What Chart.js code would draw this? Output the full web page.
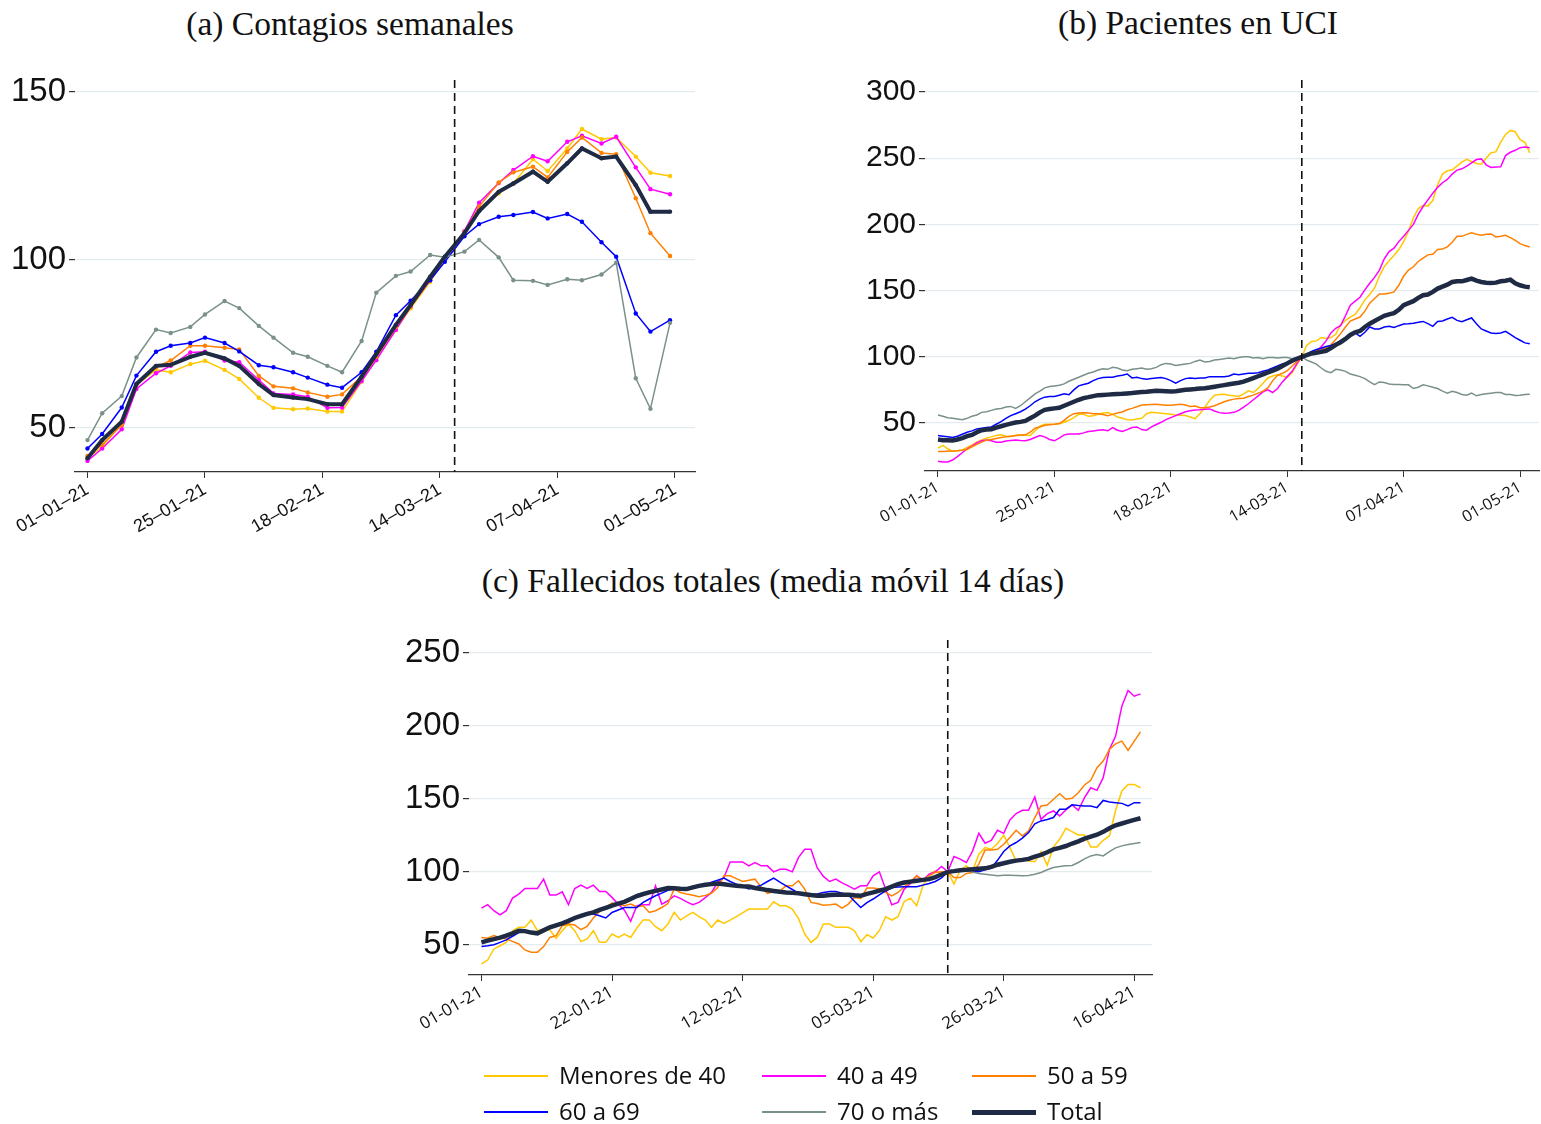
<!DOCTYPE html>
<html>
<head>
<meta charset="utf-8">
<script src="https://cdn.jsdelivr.net/npm/chart.js@4.4.1/dist/chart.umd.min.js"></script>
<style>
  body { margin: 0; background: #fff; width: 1541px; height: 1124px; position: relative; overflow: hidden; }
  .box { position: absolute; }
  .title { position: absolute; text-align: center; font-family: 'Liberation Serif', 'DejaVu Serif', serif; font-size: 33.5px; color: #111; line-height: 36px; white-space: nowrap; }
  .lg-line { position: absolute; width: 64px; }
  .lg-text { position: absolute; font-family: 'Open Sans', sans-serif; font-size: 24px; color: #111; line-height: 34px; white-space: nowrap; }
</style>
</head>
<body>
<div class="title" style="left:0;width:700px;top:6px">(a) Contagios semanales</div>
<div class="title" style="left:848px;width:700px;top:5px">(b) Pacientes en UCI</div>
<div class="title" style="left:423px;width:700px;top:563px">(c) Fallecidos totales (media móvil 14 días)</div>

<div class="box" style="left:0;top:0"><canvas id="chartA" width="700" height="545"></canvas></div>
<div class="box" style="left:845px;top:0"><canvas id="chartB" width="696" height="544"></canvas></div>
<div class="box" style="left:380px;top:560px"><canvas id="chartC" width="780" height="500"></canvas></div>
<div id="legend"></div>

<script>
// series names / colours (legend order)
const SERIES = ['Menores de 40', '40 a 49', '50 a 59', '60 a 69', '70 o más', 'Total'];
const COLORS = ['#FFC800', '#FF00FF', '#FF8000', '#0000FF', '#7A918A', '#1F2A44'];

// day of the "corte" (dashed line), days after 01-01-21
const CUT_DAY = 75;

// ---------- (a) Contagios semanales: two points per week ----------
const daysA = [0, 3, 7, 10, 14, 17, 21, 24, 28, 31, 35, 38, 42, 45, 49, 52, 56, 59, 63, 66, 70, 73,
               77, 80, 84, 87, 91, 94, 98, 101, 105, 108, 112, 115, 119];
const yellowA = [41.0, 44.4, 51.4, 62.8, 67.3, 66.6, 69.0, 70.0, 67.3, 64.6, 59.0, 56.0, 55.6, 55.8, 54.9, 54.9, 63.8, 70.7, 79.2, 85.6, 93.5, 100.5,
                 108.4, 115.4, 119.8, 122.8, 130.0, 126.5, 133.2, 139.0, 136.0, 136.5, 130.8, 126.0, 125.0];
const magentaA = [40.2, 43.9, 49.6, 61.6, 66.3, 68.5, 72.5, 72.7, 70.1, 69.6, 64.3, 60.3, 60.0, 59.3, 56.0, 56.1, 64.0, 70.2, 79.2, 86.1, 94.0, 100.8,
                  108.6, 117.1, 122.9, 126.8, 130.9, 129.4, 135.2, 137.0, 134.7, 136.7, 127.6, 121.1, 119.6];
const orangeA = [41.7, 45.0, 50.9, 63.0, 68.1, 70.1, 74.5, 74.5, 73.9, 73.4, 65.5, 62.4, 61.8, 60.6, 59.3, 60.0, 65.3, 71.2, 80.1, 86.1, 95.0, 100.8,
                 108.4, 115.9, 123.1, 126.1, 127.8, 124.6, 132.2, 136.5, 131.9, 131.5, 118.4, 108.0, 101.2];
const blueA = [43.9, 48.2, 56.1, 65.6, 72.7, 74.5, 75.3, 76.9, 75.3, 72.8, 68.7, 68.1, 66.6, 65.0, 62.9, 62.0, 66.6, 72.7, 83.6, 87.9, 94.0, 99.5,
               107.1, 110.7, 112.9, 113.4, 114.3, 112.4, 113.7, 111.4, 105.3, 101.0, 84.1, 78.7, 82.1];
const grayA = [46.4, 54.4, 59.5, 71.0, 79.3, 78.3, 80.1, 83.8, 87.8, 85.7, 80.4, 76.9, 72.4, 71.2, 68.5, 66.6, 75.9, 90.3, 95.3, 96.6, 101.5, 100.8,
               102.5, 106.0, 100.8, 94.0, 93.8, 92.6, 94.3, 94.0, 95.7, 99.2, 64.8, 55.7, 81.3];
const totalA = [41.0, 46.4, 51.9, 63.1, 68.5, 68.8, 71.2, 72.4, 70.7, 68.5, 63.1, 59.8, 59.1, 58.6, 57.1, 57.1, 65.3, 72.0, 80.7, 86.6, 95.0, 101.0,
                108.0, 114.6, 120.3, 122.8, 126.3, 123.3, 128.8, 133.2, 130.3, 130.8, 122.3, 114.4, 114.4];
const tickDaysA = [0, 24, 48, 72, 96, 120];
const tickLabelsA = ['01–01–21', '25–01–21', '18–02–21', '14–03–21', '07–04–21', '01–05–21'];
const yTicksA = [50, 100, 150];

// ---------- (b) Pacientes en UCI: daily, day 0 .. 122 ----------
const yellowB = [31, 33, 30.5, 28.5, 29, 29.6, 31.5, 33.4, 35.5, 37.2,
  38.5, 39.5, 40.5, 41, 40, 39.7, 40.5, 41, 40.8, 40.5,
  44, 47.5, 49, 49.1, 49.1, 49.3, 50.5, 52, 54, 56.5,
  56.5, 55, 55.5, 56.5, 57.5, 57.9, 56.5, 54.5, 53.5, 52.5,
  52.3, 53, 53.6, 57, 58, 57.7, 57.4, 57, 56.5, 56,
  55.8, 55.6, 54.5, 53.2, 57, 62, 67, 71, 71.5, 71.7,
  71, 70.5, 70, 72, 74.3, 73, 76, 80, 84, 85.5,
  86.4, 85.5, 84.5, 88, 94, 100, 108.5, 111.6, 112, 114.6,
  113.8, 114.5, 117, 124, 127.5, 130, 132, 137, 143, 147,
  152, 161, 168, 172.5, 176.5, 181, 187, 195, 205, 212,
  214.2, 214, 218, 230, 238, 240.5, 241.3, 244, 247, 249.1,
  247.5, 246, 245.5, 250, 254.1, 254.8, 262, 268, 271, 270,
  264, 262, 254];
const magentaB = [21, 20.5, 20.5, 22, 24.5, 27.5, 30.5, 32.5, 35, 36.5,
  37.2, 36.5, 35.5, 35.5, 36.3, 36.8, 37.2, 36.8, 36.5, 37.5,
  39, 40.5, 39.5, 37.5, 36.5, 38.5, 41, 41.6, 41.6, 41.6,
  42.5, 43.5, 44, 44.5, 44.8, 44.1, 46.5, 44.5, 43.5, 45,
  46.5, 47, 45, 44.5, 47, 48.8, 50.5, 52.5, 54, 55.5,
  57, 58.5, 59.3, 59.8, 60, 60.3, 60.6, 59, 57.8, 57.4,
  57.6, 58, 59.5, 62, 64.5, 67.5, 70.5, 73.5, 75, 73,
  76, 81, 85, 89, 95, 100, 101, 102.3, 104.5, 107.5,
  112, 118, 121.5, 123.5, 131, 139, 142, 145, 150.5, 155.5,
  160, 165.5, 174, 179.5, 182, 187, 191, 195.5, 200, 207.5,
  213.5, 218.5, 223.5, 228, 231.5, 234, 238, 241, 242, 244,
  246.5, 249, 249.5, 245, 243, 243.3, 243.5, 252, 254.5, 256,
  258, 258.5, 258];
const orangeB = [28.5, 28.5, 28.7, 28.9, 29, 29.3, 30, 32, 33.8, 35.5,
  37, 37.5, 38.3, 39, 39.5, 40, 40.5, 40.8, 41, 43,
  46, 47, 48.2, 48.6, 49, 49.5, 52, 55, 57, 57.5,
  57.8, 57.5, 57, 57, 56.4, 55.5, 56.5, 57.5, 58.3, 60,
  61, 62.2, 63.5, 63.8, 64, 64.2, 63.8, 63.3, 63.4, 63.8,
  64.2, 63.5, 62.4, 62.8, 61.5, 61.5, 62, 63, 64.5, 66,
  67.2, 68, 68.5, 68.7, 70, 71, 72.5, 74, 76.5, 82,
  86, 87.5, 89.5, 93, 96.5, 100, 101.5, 103, 104.5, 105.5,
  106.8, 109, 113, 117.5, 122.5, 127, 128.5, 130, 134.5, 140.5,
  144, 147.5, 147.5, 148, 149, 154, 161, 165.5, 168, 172,
  174.5, 177, 177.5, 181, 181.5, 183, 186.5, 191, 191, 192.5,
  193.6, 192.5, 191.8, 192.5, 192.8, 190.5, 191, 191.8, 190, 188,
  185.5, 184, 183];
const blueB = [40.5, 40, 39.5, 39, 40, 41.5, 43, 44, 45.5, 46,
  46.5, 47, 49, 51, 53.5, 55.5, 57, 58.5, 60.5, 63,
  66, 68, 69.5, 70, 70, 71, 72, 71.3, 75, 78,
  79, 80, 82, 83.5, 84.4, 84.5, 84.6, 85.5, 86, 87,
  84, 84.5, 83.5, 83, 83.5, 84, 84.4, 83.5, 82, 80.1,
  82, 83.5, 84, 83.5, 84, 84, 85, 85, 85, 85,
  85.5, 87, 86.5, 87, 87.5, 87.6, 88, 89, 90, 91.5,
  93, 94.5, 95.5, 97, 98.5, 100, 102, 104, 105.5, 106.5,
  107.8, 108.5, 110, 112, 114.5, 117.5, 118, 115.5, 118.5, 122.5,
  121, 121, 122.5, 123, 122.2, 123.5, 124.7, 125, 125.4, 126,
  126.7, 125, 123, 126.7, 127, 128.5, 129.8, 127.5, 126.5, 128,
  129.3, 125, 121, 119.5, 118, 117.5, 118, 119.2, 117, 114.5,
  112.5, 110.5, 109.8];
const grayB = [56, 55, 54, 53.5, 53, 52.5, 53.5, 55, 56, 58,
  58.5, 59.5, 60.5, 61, 62, 62.5, 61, 63, 66, 69,
  72, 74, 76.5, 77.5, 78, 78.5, 79.5, 81.5, 83, 84.5,
  86, 87.5, 88.5, 90, 91, 90.5, 92, 91.5, 90, 89.5,
  90.5, 91, 91.5, 90.5, 91, 92, 94, 95, 94.5, 93.5,
  94, 94.5, 95, 96.5, 97.5, 96, 96.5, 97.5, 98, 98.5,
  99, 98.5, 99.5, 100, 100, 99, 99.5, 98.5, 99.5, 99.5,
  99, 99.5, 99.5, 98.5, 99.5, 100, 97.5, 96, 94.5, 91.5,
  89, 88, 90.5, 90, 89, 87, 86, 85, 83.5, 81,
  79, 81, 80.5, 79.5, 79, 79, 78.8, 78.8, 76, 77,
  78.8, 78, 77, 76, 74, 72.5, 74, 73, 71.5, 71,
  72.5, 70.5, 71.5, 72, 72.5, 73, 73, 71.5, 71.5, 70.7,
  71, 71.5, 71.7];
const totalB = [37.5, 37, 37, 36.8, 37.5, 38.5, 40, 41, 43, 44.5,
  45, 45.3, 46.5, 47.5, 48.6, 49.5, 50.3, 50.8, 51.5, 53.5,
  55.5, 58, 59.9, 60.5, 61, 61.5, 63, 64.5, 66, 67.5,
  68.8, 69.5, 70.3, 71, 71.2, 71.4, 71.6, 71.8, 72, 72.3,
  72.6, 73, 73.3, 73.6, 74, 74.3, 74.2, 74, 73.8, 74,
  74.5, 75, 75.3, 75.6, 76, 76.3, 76.8, 77.4, 78, 78.6,
  79.2, 79.8, 80.4, 81.2, 82.5, 83.9, 85.3, 86.7, 88.1, 89.5,
  91, 93, 95, 97, 98.5, 100, 101.2, 102.5, 103, 103.7,
  104.5, 106.5, 109, 111, 113.5, 116.5, 118.5, 119.5, 122.5, 125,
  127, 129, 131, 132, 133, 135.5, 139, 140.5, 142, 144.5,
  146.5, 147, 149, 151.5, 153, 154.5, 156.5, 157, 157, 158,
  159, 157.5, 156.5, 156, 155.7, 156, 157, 157.5, 158.3, 155.5,
  154, 153, 152.5];
const tickDaysB = [0, 24, 48, 72, 96, 120];
const tickLabelsB = ['01-01-21', '25-01-21', '18-02-21', '14-03-21', '07-04-21', '01-05-21'];
const yTicksB = [50, 100, 150, 200, 250, 300];

// ---------- (c) Fallecidos totales: daily, day 0 .. 106 ----------
const yellowC = [37, 39.7, 47.3, 49.5, 51.8, 59.8, 62.1, 62.1, 67.1, 59.8,
  61, 60.3, 54.6, 59.8, 64.4, 59.8, 52.3, 54.1, 59.8, 51.8,
  51.8, 57.5, 55.2, 57.5, 55.2, 61.6, 67.1, 67.1, 62.5, 59.8,
  64.4, 72.3, 67.1, 70, 72.3, 69.4, 67.1, 62.1, 67.1, 64.8,
  67, 69.4, 72, 74.6, 74.6, 74.6, 74.6, 79.6, 76.9, 76.9,
  74.6, 68, 57.5, 51.8, 55.2, 64.4, 64.4, 62.1, 62.1, 62.1,
  59.8, 52.3, 57.1, 54.8, 59.8, 69.4, 67.1, 69.4, 79.8, 82.1,
  76.9, 90.5, 98.5, 100.8, 98.5, 100.1, 91.7, 101.2, 104.2, 100.8,
  112.2, 116.7, 115.6, 119.5, 125.2, 116.7, 107.6, 108.8, 107.6, 107.1,
  114, 104.7, 117.2, 122.4, 129.9, 127.7, 125.4, 125.4, 117.2, 117.2,
  121.7, 124.7, 142.3, 155.5, 160, 160, 157.7];
const magentaC = [75.3, 77.6, 73.5, 70.7, 73.5, 82.1, 84.9, 88.7, 88.7, 88.7,
  95.1, 84.2, 84.2, 86.4, 77.6, 88.7, 91, 88.7, 91, 86.7,
  86.7, 82.6, 78, 73.9, 66.2, 76.9, 77.6, 77.6, 90.5, 78,
  80.3, 83.7, 81.9, 79.5, 77.6, 79.2, 82.5, 86, 92.8, 96.2,
  106.9, 106.9, 106.9, 104.2, 106.5, 104.2, 104.2, 100.1, 101.9, 101.9,
  100.1, 110, 115.6, 115.6, 103, 97, 93.5, 95.1, 92.5, 90.5,
  88.3, 90.5, 90.5, 97.4, 100.1, 88.3, 77.6, 79.2, 88.3, 92.1,
  97.4, 94.4, 98.5, 100.1, 103.8, 100.1, 110.6, 108.8, 106.5, 114.5,
  126.5, 119.7, 121.7, 128.6, 126.5, 135.6, 140, 142.3, 142.3, 151.4,
  136.1, 140, 141.8, 138.4, 142.5, 145.9, 142.3, 150.9, 157.7, 155.9,
  164.6, 183.9, 193.1, 213.6, 224.3, 220.4, 222];
const orangeC = [55.2, 54.6, 56.4, 55, 54.1, 52.5, 50.7, 46.6, 45, 45,
  48.9, 55.2, 56.4, 63.2, 64.4, 63.7, 60.5, 62.8, 68.5, 73,
  75.7, 78.7, 78, 76.9, 78, 76.2, 76.9, 72.3, 73.5, 75.7,
  78.4, 88.3, 86, 84.9, 84, 83, 84, 85.4, 89.4, 97.4,
  97.4, 95.5, 93.5, 94.3, 95.1, 89.4, 85.4, 86.7, 87.1, 90.5,
  90.5, 94, 88.3, 79.2, 78.4, 77.3, 77.6, 78, 75.3, 78,
  82.6, 81.9, 89, 89, 88.3, 86, 83.7, 86, 89.9, 93.3,
  97.4, 94.4, 97.4, 99.7, 100.1, 100.1, 96.2, 96.2, 99, 99.7,
  105.4, 115, 115, 115.6, 119, 123.6, 128.6, 124.7, 128.2, 137.3,
  145.2, 145.9, 149.8, 153.6, 149.8, 150.5, 154.3, 159.6, 162.8, 171.4,
  176, 183.9, 187.8, 189.6, 183.3, 189.6, 196];
const blueC = [48.9, 49.5, 50.2, 51.8, 53.5, 56, 58.5, 59, 58.5, 58.2,
  60, 62, 63.5, 65, 66.5, 68, 69.5, 71.2, 71.2, 70,
  68.5, 72.3, 74, 75.7, 75.7, 75.7, 79.2, 81.5, 83.7, 85.5,
  87.5, 88.3, 88.3, 88.3, 89.5, 90.5, 91.2, 93, 94.4, 95.8,
  93.5, 91.7, 90, 88.3, 89.5, 91, 93.5, 95.8, 93, 90.5,
  88, 85.5, 84.2, 84.5, 85, 86, 86.7, 86.7, 85.5, 84.4,
  80, 75.7, 79, 81.5, 84.4, 87, 89.4, 89.7, 89.9, 89.9,
  89.9, 91, 92.1, 93.5, 96, 100.1, 100.6, 101, 101.2, 100.5,
  100.1, 101.5, 102.6, 108, 114, 117.9, 120.2, 123.2, 127, 133,
  135, 136, 137.3, 143, 143, 146, 145.5, 145.2, 145.2, 144.1,
  149, 148, 147.5, 147, 145.2, 147.5, 147.5];
const grayC = [52, 53, 54.5, 55.5, 57, 58.5, 60, 60, 59, 58.5,
  60.5, 62.5, 64, 65.5, 67, 69, 70.5, 71.8, 72.8, 74.5,
  76, 77.5, 79, 80.5, 82.5, 84.5, 86, 87, 88, 88.8,
  89.5, 89.3, 89, 89, 90, 91, 91.8, 92.2, 92.5, 92,
  91.5, 91, 90.5, 90.2, 89.5, 88.8, 88, 87.5, 87, 86.5,
  86.2, 85.8, 85.2, 84.6, 84.2, 84.2, 84.6, 84.8, 84.8, 84.8,
  84.5, 84.2, 85.5, 86.5, 87.7, 88.8, 90.5, 92, 93, 93.6,
  94.2, 94.8, 95.4, 96.8, 98.5, 100.1, 100.5, 100.8, 100.8, 100,
  99, 98.5, 98, 97.4, 97.8, 97.8, 97.6, 97.4, 97.6, 98.5,
  99.7, 101.5, 103.1, 103.8, 104.2, 104.5, 106.5, 109, 111, 112,
  111, 114, 116.5, 117.9, 118.8, 119.5, 120.2];
const totalC = [51.8, 53, 54, 55, 56.4, 58, 59.8, 59.5, 58.5, 58,
  60, 62.1, 63.5, 64.8, 66.5, 68.5, 70, 71.3, 72.3, 74,
  75.5, 77, 78.3, 79.6, 81.5, 83.5, 84.9, 86, 87.1, 88,
  89, 88.8, 88.5, 88.3, 89.5, 90.5, 91.2, 91.7, 92.1, 91.6,
  91, 90.5, 90.2, 90, 89, 88.3, 87.6, 87, 86.4, 86,
  85.7, 85.4, 84.8, 84.2, 83.7, 83.7, 84.2, 84.4, 84.4, 84.4,
  84, 83.7, 85, 86, 87.2, 88.3, 90, 91.7, 92.8, 93.4,
  94, 94.6, 95.1, 96.5, 98.3, 100.1, 100.6, 101.2, 101.5, 101.9,
  102.2, 102.5, 103.5, 105, 106, 107, 107.8, 108.3, 109, 110.5,
  111.7, 113.5, 115.5, 116.5, 117.8, 119.5, 121, 122.8, 124.2, 125.5,
  127.5, 130, 132, 133.2, 134.5, 135.7, 136.8];
const tickDaysC = [0, 21, 42, 63, 84, 105];
const tickLabelsC = ['01-01-21', '22-01-21', '12-02-21', '05-03-21', '26-03-21', '16-04-21'];
const yTicksC = [50, 100, 150, 200, 250];

// dashed vertical line at the cut date
const cutLine = {
  id: 'cutLine',
  afterDatasetsDraw(chart) {
    const ctx = chart.ctx;
    const x = chart.scales.x.getPixelForValue(CUT_DAY);
    const { top, bottom } = chart.chartArea;
    ctx.save();
    ctx.strokeStyle = '#111';
    ctx.lineWidth = 1.6;
    ctx.setLineDash([8, 5]);
    ctx.beginPath();
    ctx.moveTo(x, top);
    ctx.lineTo(x, bottom);
    ctx.stroke();
    ctx.restore();
  }
};

function buildDatasets(days, cols, radius, totalWidth) {
  return cols.map((vals, i) => ({
    label: SERIES[i],
    data: vals.map((v, j) => ({ x: days[j], y: v })),
    borderColor: COLORS[i],
    backgroundColor: COLORS[i],
    borderWidth: i === 5 ? totalWidth : 1.5,
    pointRadius: radius,
    pointBorderWidth: 0,
    pointHoverRadius: 0,
    tension: 0,
    order: 6 - i
  }));
}

function makeChart(id, cfg) {
  return new Chart(document.getElementById(id), {
    type: 'line',
    data: { datasets: buildDatasets(cfg.days, cfg.cols, cfg.radius, cfg.totalWidth) },
    options: {
      responsive: false,
      animation: false,
      devicePixelRatio: 1,
      layout: { padding: cfg.padding },
      plugins: { legend: { display: false }, tooltip: { enabled: false } },
      scales: {
        x: {
          type: 'linear',
          min: cfg.xMin,
          max: cfg.xMax,
          afterBuildTicks: s => { s.ticks = cfg.tickDays.map(v => ({ value: v })); },
          afterFit: s => { s.height = cfg.xH; },
          grid: { drawOnChartArea: false, drawTicks: true, tickLength: 6, tickColor: '#333' },
          border: { display: true, color: '#333', width: 1.2 },
          ticks: {
            autoSkip: false,
            minRotation: cfg.rot,
            maxRotation: cfg.rot,
            padding: 1,
            color: '#111',
            font: cfg.xFont,
            callback: v => cfg.tickLabels[cfg.tickDays.indexOf(v)]
          }
        },
        y: {
          min: cfg.yMin,
          max: cfg.yMax,
          afterBuildTicks: s => { s.ticks = cfg.yTicks.map(v => ({ value: v })); },
          afterFit: s => { s.width = cfg.yW; },
          grid: { color: '#E4EBEE', lineWidth: 1.2, drawTicks: true, tickLength: 6, tickColor: '#333' },
          border: { display: false },
          ticks: { padding: 3, color: '#111', font: cfg.yFont }
        }
      }
    },
    plugins: [cutLine]
  });
}

makeChart('chartA', {
  days: daysA,
  cols: [yellowA, magentaA, orangeA, blueA, grayA, totalA],
  radius: 2.2, totalWidth: 4,
  padding: { top: 80, right: 5, bottom: 3, left: 0 },
  xMin: -2.55, xMax: 124.1, yMin: 36.9, yMax: 153.6,
  tickDays: tickDaysA, tickLabels: tickLabelsA, yTicks: yTicksA,
  xH: 70, yW: 75, rot: 30,
  xFont: { family: "'Liberation Sans', Arial, sans-serif", size: 18 },
  yFont: { family: "'Liberation Sans', Arial, sans-serif", size: 33 }
});

const daysB = totalB.map((_, i) => i);
makeChart('chartB', {
  days: daysB,
  cols: [yellowB, magentaB, orangeB, blueB, grayB, totalB],
  radius: 0, totalWidth: 4.5,
  padding: { top: 80, right: 2, bottom: 3, left: 0 },
  xMin: -2.68, xMax: 123.9, yMin: 13.7, yMax: 309.1,
  tickDays: tickDaysB, tickLabels: tickLabelsB, yTicks: yTicksB,
  xH: 70, yW: 80, rot: 30,
  xFont: { family: "'Open Sans', sans-serif", size: 16 },
  yFont: { family: "'Liberation Sans', Arial, sans-serif", size: 30 }
});

const daysC = totalC.map((_, i) => i);
makeChart('chartC', {
  days: daysC,
  cols: [yellowC, magentaC, orangeC, blueC, grayC, totalC],
  radius: 0, totalWidth: 4.5,
  padding: { top: 80, right: 8, bottom: 5, left: 0 },
  xMin: -2.0, xMax: 107.85, yMin: 29.45, yMax: 258.9,
  tickDays: tickDaysC, tickLabels: tickLabelsC, yTicks: yTicksC,
  xH: 80, yW: 89, rot: 30,
  xFont: { family: "'Open Sans', sans-serif", size: 17 },
  yFont: { family: "'Liberation Sans', Arial, sans-serif", size: 33 }
});

// shared legend under panel (c)
const legendPos = [[484, 1076], [762, 1076], [972, 1076], [484, 1112], [762, 1112], [972, 1112]];
const legend = document.getElementById('legend');
SERIES.forEach((name, i) => {
  const [x, y] = legendPos[i];
  const h = i === 5 ? 5 : 2;
  const line = document.createElement('div');
  line.className = 'lg-line';
  line.style.cssText = `left:${x}px;top:${y - h / 2}px;height:${h}px;background:${COLORS[i]}`;
  const txt = document.createElement('div');
  txt.className = 'lg-text';
  txt.style.cssText = `left:${x + 75}px;top:${y - 18}px`;
  txt.textContent = name;
  legend.appendChild(line);
  legend.appendChild(txt);
});
</script>
</body>
</html>
